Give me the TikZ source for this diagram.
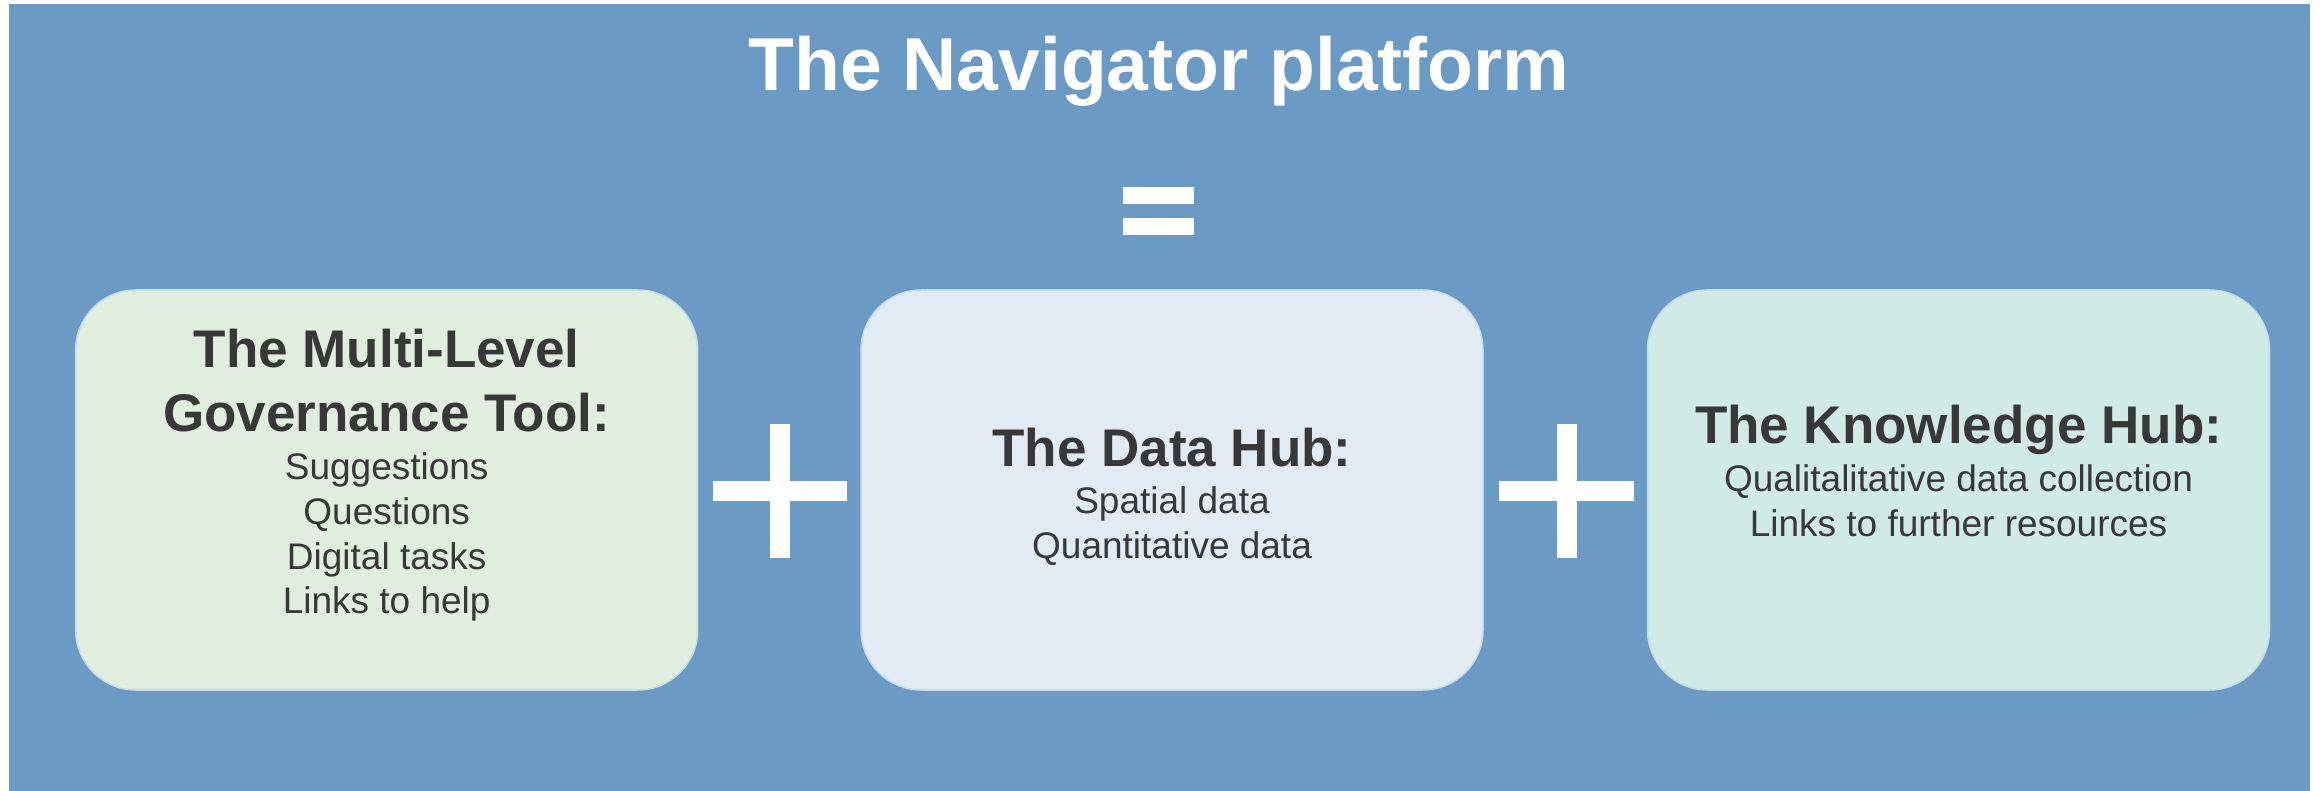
\documentclass[tikz,border=0pt]{standalone}
\usepackage{fontspec}
\setmainfont{Liberation Sans}
\definecolor{bgblue}{HTML}{6B9BC4}
\definecolor{leftfill}{HTML}{E0EEDD}
\definecolor{midfill}{HTML}{E0EBF4}
\definecolor{rightfill}{HTML}{D0EAE6}
\definecolor{boxedge}{HTML}{C6DAEA}
\definecolor{txtgray}{HTML}{383838}
\tikzset{
  panel/.style={draw=boxedge, line width=1.5pt, rounded corners=60pt,
    minimum width=622pt, minimum height=400pt, inner sep=0pt},
  titletxt/.style={anchor=base, inner sep=0pt, text=white,
    font=\fontsize{75}{90}\selectfont\bfseries},
  headtxt/.style={anchor=base, inner sep=0pt, text=txtgray,
    font=\fontsize{53}{64}\selectfont\bfseries},
  itemtxt/.style={anchor=base, inner sep=0pt, text=txtgray,
    font=\fontsize{37}{45}\selectfont},
  symbar/.style={fill=white}
}
\begin{document}
\begin{tikzpicture}[x=1pt,y=-1pt]
\useasboundingbox (0,0) rectangle (2323,791);
\fill[bgblue] (9,4) rectangle (2310,791);

% title and equals sign
\node[titletxt] (title) at (1159,91) {The Navigator platform};
\fill[symbar] (1123,187) rectangle (1194,204);
\fill[symbar] (1123,218) rectangle (1194,235);

% panels
\node[panel, fill=leftfill] (mlg) at (386.7,490) {};
\node[panel, fill=midfill] (data) at (1172,490) {};
\node[panel, fill=rightfill] (know) at (1958.5,490) {};

% plus signs
\fill[symbar] (713,481) rectangle (847,501);
\fill[symbar] (770,424) rectangle (790,558);
\fill[symbar] (1499,481) rectangle (1634,501);
\fill[symbar] (1557,424) rectangle (1577,558);

% left panel text
\node[headtxt] (mlgA) at (386.7,367) {The Multi-Level};
\node[headtxt] (mlgB) at (386.7,431) {Governance Tool:};
\node[itemtxt] (mlg1) at (386.7,479) {Suggestions};
\node[itemtxt] (mlg2) at (386.7,524) {Questions};
\node[itemtxt] (mlg3) at (386.7,569) {Digital tasks};
\node[itemtxt] (mlg4) at (386.7,613) {Links to help};

% middle panel text
\node[headtxt] (dataA) at (1172,466) {The Data Hub:};
\node[itemtxt] (data1) at (1172,513) {Spatial data};
\node[itemtxt] (data2) at (1172,558) {Quantitative data};

% right panel text
\node[headtxt] (knowA) at (1958.5,443) {The Knowledge Hub:};
\node[itemtxt] (know1) at (1958.5,491) {Qualitalitative data collection};
\node[itemtxt] (know2) at (1958.5,536) {Links to further resources};
\end{tikzpicture}
\end{document}
